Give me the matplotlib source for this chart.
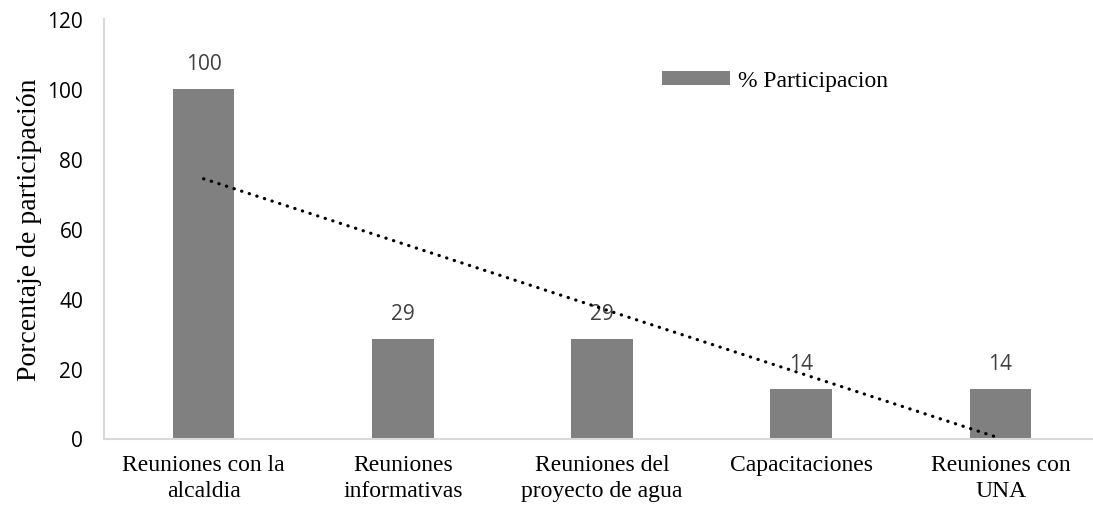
import matplotlib.pyplot as plt
import numpy as np

categorias = ['Reuniones con la\nalcaldia', 'Reuniones\ninformativas',
              'Reuniones del\nproyecto de agua', 'Capacitaciones',
              'Reuniones con\nUNA']
participacion = [100, 28.6, 28.6, 14.3, 14.3]
etiquetas = ['100', '29', '29', '14', '14']
y_ticks = [0, 20, 40, 60, 80, 100, 120]

fig = plt.figure(figsize=(10.93, 5.10), dpi=100)
ax = fig.add_axes([104 / 1093, 70.5 / 510, 989 / 1093, 419.5 / 510])

x = np.arange(len(categorias))
ax.bar(x, participacion, width=0.31, color='#808080', label='% Participacion', zorder=2)

# linea de tendencia lineal
m, b = np.polyfit(x, participacion, 1)
ax.plot(x, m * x + b, color='black', lw=2.3, linestyle=(0, (0.1, 2.4)),
        dash_capstyle='round', zorder=3)

for xi, v, t in zip(x, participacion, etiquetas):
    ax.annotate(t, (xi, v), xytext=(0, 18), textcoords='offset points',
                ha='center', va='center', fontsize=15, color='#404040',
                family='Open Sans', zorder=1)

ax.set_xlim(-0.5, 4.464)
ax.set_ylim(0, 120)
ax.set_yticks(y_ticks)
ax.set_yticklabels([str(t) for t in y_ticks], family='Open Sans', fontsize=15)
ax.set_xticks(x)
ax.set_xticklabels(categorias, family='Liberation Serif', fontsize=17, linespacing=1.35)
ax.tick_params(axis='y', length=0, pad=15)
ax.tick_params(axis='x', length=0, pad=11)

for s in ['top', 'right']:
    ax.spines[s].set_visible(False)
for s in ['left', 'bottom']:
    ax.spines[s].set_color('#d9d9d9')
    ax.spines[s].set_linewidth(1.5)

ax.set_ylabel('Porcentaje de participación', family='Liberation Serif', fontsize=20)

fig.legend(loc='center left', bbox_to_anchor=(662 / 1093, 1 - 82 / 510),
           frameon=False, borderpad=0, borderaxespad=0,
           handlelength=2.88, handleheight=0.5, handletextpad=0.34,
           prop={'family': 'Liberation Serif', 'size': 17})

fig.savefig('out.png', dpi=100)
